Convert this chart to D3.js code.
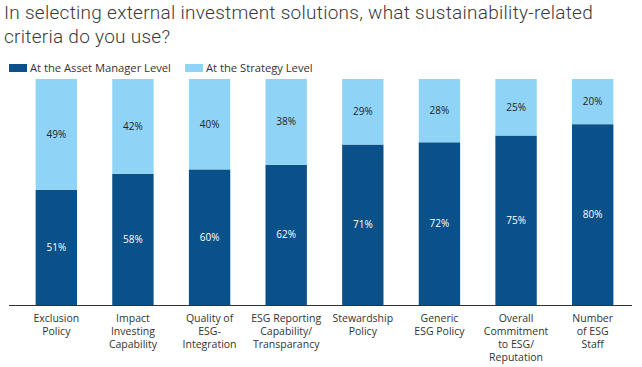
<!DOCTYPE html>
<html><head><meta charset="utf-8">
<script src="https://cdn.jsdelivr.net/npm/d3@7/dist/d3.min.js"></script>
<style>body{margin:0;background:#fff}svg{display:block}</style>
</head><body>
<svg id="c" width="642" height="367"></svg>
<script>
const categories = [
  ["Exclusion","Policy"],
  ["Impact","Investing","Capability"],
  ["Quality of","ESG-","Integration"],
  ["ESG Reporting","Capability/","Transparancy"],
  ["Stewardship","Policy"],
  ["Generic","ESG Policy"],
  ["Overall","Commitment","to ESG/","Reputation"],
  ["Number","of ESG","Staff"]
];
const assetManager = [51,58,60,62,71,72,75,80];
const strategy = [49,42,40,38,29,28,25,20];
const seriesNames = ["At the Asset Manager Level","At the Strategy Level"];
const colors = ["#0a5189","#8fd4f6"];
const titleLines = ["In selecting external investment solutions, what sustainability-related","criteria do you use?"];

const svg = d3.select("#c");
const font = "'Open Sans', 'Noto Sans', sans-serif";

const title = svg.append("g").selectAll("text").data(titleLines).join("text")
  .attr("x",4).attr("y",(d,i)=>19+i*24)
  .attr("font-family","Roboto, sans-serif").attr("font-weight",300)
  .attr("font-size",19).attr("fill","#3a3a3a").text(d=>d);
// stretch letter spacing so the first line spans its width in the reference
const n0 = title.nodes()[0];
const w0 = n0.getComputedTextLength();
const ls = (589 - w0) / titleLines[0].length;
title.attr("letter-spacing", ls);

// legend
const lg = svg.append("g");
const lx = [9,185];
seriesNames.forEach((n,i)=>{
  lg.append("rect").attr("x",lx[i]).attr("y",64).attr("width",18).attr("height",8).attr("fill",colors[i]);
  lg.append("text").attr("x",lx[i]+21).attr("y",72).attr("font-family",font).attr("font-size",11.2)
    .attr("fill","#333").text(n);
});

const x = d3.scaleBand().domain(d3.range(categories.length)).range([18,631]).paddingInner(0.46).paddingOuter(0.23);
const y = d3.scaleLinear().domain([0,100]).range([305,79]);

const data = categories.map((c,i)=>({i, a:assetManager[i], s:strategy[i]}));
const stack = d3.stack().keys(["a","s"])(data);

const g = svg.append("g");
stack.forEach((layer,k)=>{
  g.selectAll(null).data(layer).join("rect")
    .attr("x",d=>x(d.data.i)).attr("width",x.bandwidth())
    .attr("y",d=>y(d[1])).attr("height",d=>y(d[0])-y(d[1]))
    .attr("fill",colors[k]);
  g.selectAll(null).data(layer).join("text")
    .attr("x",d=>x(d.data.i)+x.bandwidth()/2)
    .attr("y",d=>(y(d[0])+y(d[1]))/2+3.5)
    .attr("text-anchor","middle").attr("font-family",font).attr("font-size",10)
    .attr("fill",k===0?"#fff":"#222").text(d=>(d[1]-d[0])+"%");
});

svg.append("line").attr("x1",9).attr("x2",632).attr("y1",305.5).attr("y2",305.5)
  .attr("stroke","#333").attr("stroke-width",1);

const lab = svg.append("g");
categories.forEach((lines,i)=>{
  const t = lab.append("text").attr("text-anchor","middle").attr("font-family",font)
    .attr("font-size",10.5).attr("fill","#333");
  lines.forEach((l,j)=>t.append("tspan").attr("x",x(i)+x.bandwidth()/2).attr("y",322+j*13).text(l));
});
</script>
</body></html>
